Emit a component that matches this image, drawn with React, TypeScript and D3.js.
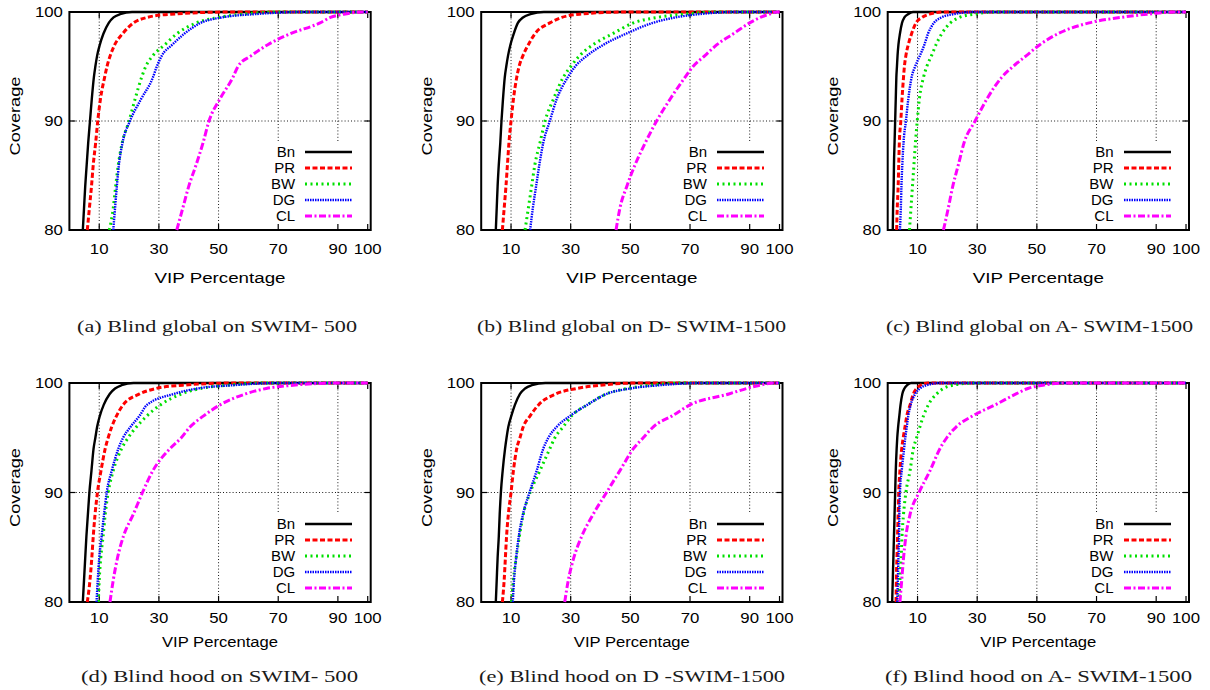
import React from 'react';
import * as d3 from 'd3';

// ---------- data ----------
const coverageLevels = [80, 82, 84, 86, 88, 90, 92, 94, 95, 96, 97, 98, 99, 99.5, 99.8, 100];
const seriesNames = ['Bn', 'PR', 'BW', 'DG', 'CL'];
const xTickValues = [10, 30, 50, 70, 90, 100];
const yTickValues = [80, 90, 100];
const xGridValues = [10, 30, 50, 70, 90];
const yGridValues = [90];
const xLabelText = 'VIP Percentage';
const yLabelText = 'Coverage';
const captions = [
  '(a) Blind global on SWIM- 500',
  '(b) Blind global on D- SWIM-1500',
  '(c) Blind global on A- SWIM-1500',
  '(d) Blind hood on SWIM- 500',
  '(e) Blind hood on D -SWIM-1500',
  '(f) Blind hood on A- SWIM-1500',
];

// VIP percentage needed to reach each coverage level
// (a) Blind global on SWIM-500
const aBn = [4.5, 4.9, 5.3, 5.8, 6.3, 6.9, 7.5, 8.2, 8.7, 9.3, 10.2, 11.4, 13.2, 14.8, 17, 21];
const aPR = [6.0, 6.7, 7.4, 8.0, 8.8, 9.5, 10.4, 11.8, 12.6, 13.7, 15.2, 17.8, 21.5, 26, 34, 55];
const aBW = [13.4, 14.7, 15.5, 16.4, 17.7, 20.0, 22, 24.2, 25.6, 28, 32, 36, 42.5, 50, 58, 70];
const aDG = [14.7, 15.3, 15.9, 16.6, 17.8, 20.3, 24, 28, 29.3, 31, 34.5, 38.5, 44, 51, 62, 78];
const aCL = [36, 38, 40, 42.5, 44.8, 46.8, 50.4, 54.8, 56.5, 61, 66.5, 74, 84, 87.5, 92, 99];
// (b) Blind global on D-SWIM-1500
const bBn = [4.9, 5.2, 5.5, 5.9, 6.4, 6.8, 7.3, 7.9, 8.4, 9.0, 9.8, 10.9, 12.3, 14, 16.5, 21];
const bPR = [7.1, 7.7, 8.3, 8.8, 9.3, 10, 10.8, 11.9, 12.7, 14, 15.8, 18, 23, 27, 33, 48];
const bBW = [14.7, 15.8, 16.9, 18, 19.7, 21.4, 24.2, 27.5, 30, 33, 37.5, 44, 51, 59, 68, 80];
const bDG = [16.4, 17.3, 18.4, 19.5, 20.8, 23, 25.3, 29, 31.5, 35.5, 41, 48.5, 57.5, 65, 73, 85];
const bCL = [45.2, 46.5, 48.8, 51.6, 55, 58.8, 63.3, 68.3, 71, 75, 79, 84.5, 90, 93.5, 96.5, 99];
// (c) Blind global on A-SWIM-1500
const cBn = [1.7, 1.8, 2.0, 2.1, 2.3, 2.5, 2.7, 2.9, 3.1, 3.3, 3.6, 4.1, 4.8, 5.6, 6.8, 8.5];
const cPR = [3.0, 3.2, 3.5, 3.7, 3.9, 4.4, 4.8, 5.3, 5.6, 6.1, 6.9, 8, 9.5, 11.5, 14, 19];
const cBW = [7.3, 7.8, 8.3, 8.8, 9.3, 9.9, 10.6, 12, 13.1, 14.7, 16.2, 18.1, 21, 24, 29, 36];
const cDG = [4.1, 4.4, 4.6, 4.9, 5.3, 6.1, 6.9, 8, 9.2, 10.8, 12.3, 13.5, 15.5, 18, 22, 29];
const cCL = [18.7, 20.3, 21.8, 23.7, 25.6, 29.3, 33.2, 38.2, 42, 46.5, 51, 57, 67.5, 78, 87, 96];
// (d) Blind hood on SWIM-500
const dBn = [4.5, 4.9, 5.3, 5.7, 6.2, 6.7, 7.4, 8.1, 8.7, 9.3, 10.2, 11.5, 13.5, 15.3, 17.5, 21.5];
const dPR = [6, 6.9, 7.5, 8, 8.6, 9.4, 10.6, 12, 13, 14.2, 15.8, 18, 23.5, 29, 38, 55];
const dBW = [9.7, 10, 10.5, 11.3, 12, 13, 14.7, 17.5, 19.7, 22.5, 26, 30.5, 37.5, 44, 53, 66];
const dDG = [9.1, 9.5, 10, 10.8, 11.6, 12.5, 14.2, 16.4, 18, 20.5, 23.5, 26, 35, 43, 55, 70];
const dCL = [13.6, 14.7, 16.1, 18.1, 21.4, 24.5, 28, 33.7, 37.5, 40.5, 45, 50.5, 59, 66, 75, 90];
// (e) Blind hood on D-SWIM-1500
const eBn = [4.9, 5.2, 5.5, 5.9, 6.2, 6.6, 7.2, 8, 8.5, 9.1, 10.1, 11.3, 13, 14.7, 17, 21.5];
const ePR = [7.1, 7.7, 8.1, 8.5, 9.1, 10, 10.8, 11.9, 13, 14.1, 16.4, 19.2, 25, 32, 40, 52];
const eBW = [10.2, 10.8, 11.7, 12.8, 14.1, 16.4, 19.7, 23, 24.7, 27.5, 30.3, 35.5, 42, 49, 57, 68];
const eDG = [10.6, 11, 11.7, 12.6, 14, 16.2, 18.6, 20.8, 22.5, 25.3, 29.8, 35.5, 42, 50, 60, 74];
const eCL = [28, 29.2, 31, 33.7, 37.5, 42, 46.5, 51, 54.3, 57.7, 64, 70, 83, 89, 93.5, 98];
// (f) Blind hood on A-SWIM-1500
const fBn = [1.5, 1.7, 1.9, 2.1, 2.3, 2.5, 2.7, 3.0, 3.2, 3.5, 3.9, 4.3, 4.9, 5.6, 6.5, 7.8];
const fPR = [2.8, 2.9, 3.1, 3.3, 3.5, 3.7, 4.1, 4.7, 5.2, 5.8, 6.4, 7.5, 8.6, 9.7, 11, 13.5];
const fBW = [3.8, 4.1, 4.5, 4.8, 5.3, 6.1, 7.5, 8.6, 9.7, 10.8, 12, 13.6, 16.4, 18.7, 22, 29];
const fDG = [3.2, 3.4, 3.6, 3.8, 3.9, 4.1, 4.7, 5.5, 5.9, 6.4, 6.9, 7.7, 9.2, 10.8, 13, 17.5];
const fCL = [4.1, 4.7, 5.3, 6.1, 7.5, 10.5, 14.2, 17.5, 19.8, 23, 28.5, 36, 43, 47, 52, 60];

const panelSeries = [
  [aBn, aPR, aBW, aDG, aCL],
  [bBn, bPR, bBW, bDG, bCL],
  [cBn, cPR, cBW, cDG, cCL],
  [dBn, dPR, dBW, dDG, dCL],
  [eBn, ePR, eBW, eDG, eCL],
  [fBn, fPR, fBW, fDG, fCL],
];

// ---------- styles / layout ----------
const seriesStyles = [
  { color: '#000000', width: 2.4, dash: null },
  { color: '#ff0000', width: 3, dash: '5,2.5' },
  { color: '#00e000', width: 3, dash: '2,3.5' },
  { color: '#0000ff', width: 2.4, dash: '1.5,1' },
  { color: '#ff00ff', width: 3, dash: '7,2.5,2,2.5' },
];
const colX0 = [69.4, 481.2, 887.7];
const plotW = 301.3;
const rows = [
  { top: 12, bottom: 230, tickBase: 24, labelBase: 283, labelLen: 131, capBase: 332 },
  { top: 383, bottom: 602, tickBase: 20.7, labelBase: 646.5, labelLen: 116, capBase: 682 },
];
const captionBox = [
  [77, 280], [477, 309], [886, 307],
  [81, 277], [479, 306], [885, 307],
];
const SANS = '"Liberation Sans", Arial, Helvetica, sans-serif';
const SERIF = '"Liberation Serif", "Times New Roman", serif';

function Panel({ idx }: { idx: number }) {
  const row = rows[Math.floor(idx / 3)];
  const x0 = colX0[idx % 3];
  const x = d3.scaleLinear().domain([0, 101]).range([x0, x0 + plotW]);
  const y = d3.scaleLinear().domain([80, 100]).range([row.bottom, row.top]);
  const left = x(0), right = x(101), top = y(100), bottom = y(80);
  const line = d3
    .line<[number, number]>()
    .x((d) => x(d[0]))
    .y((d) => y(d[1]))
    .curve(d3.curveMonotoneX);
  const tickLen = 6;
  const legendBoxTop = bottom - 88;
  const legendRows = seriesNames.map((_, i) => Math.round(bottom - 14 - 16 * (4 - i)));
  const sampleX1 = Math.round(right - 65.5);
  const sampleX2 = Math.round(right - 18.5);

  return (
    <g>
      {/* grid */}
      {xGridValues.map((v) => (
        <line key={'gx' + v} x1={x(v)} x2={x(v)} y1={top} y2={bottom}
          stroke="#000" strokeWidth={0.9} strokeDasharray="1,2.2" />
      ))}
      {yGridValues.map((v) => (
        <line key={'gy' + v} x1={left} x2={right} y1={y(v)} y2={y(v)}
          stroke="#000" strokeWidth={0.9} strokeDasharray="1,2.2" />
      ))}
      {/* legend background */}
      <rect x={right - 100} y={legendBoxTop} width={100} height={bottom - legendBoxTop} fill="#fff" />
      {/* ticks */}
      {xTickValues.map((v) => (
        <g key={'tx' + v}>
          <line x1={x(v)} x2={x(v)} y1={bottom} y2={bottom - tickLen} stroke="#000" strokeWidth={1.2} />
          <line x1={x(v)} x2={x(v)} y1={top} y2={top + tickLen} stroke="#000" strokeWidth={1.2} />
          <text x={x(v)} y={bottom + row.tickBase} textAnchor="middle" fontFamily={SANS}
            fontSize={15} textLength={v === 100 ? 28 : 18.7} lengthAdjust="spacingAndGlyphs">{v}</text>
        </g>
      ))}
      {yTickValues.map((v) => (
        <g key={'ty' + v}>
          <line x1={left} x2={left + tickLen} y1={y(v)} y2={y(v)} stroke="#000" strokeWidth={1.2} />
          <line x1={right} x2={right - tickLen} y1={y(v)} y2={y(v)} stroke="#000" strokeWidth={1.2} />
          <text x={left - 6.5} y={y(v)} dy="0.36em" textAnchor="end" fontFamily={SANS}
            fontSize={15} textLength={v === 100 ? 28 : 18.7} lengthAdjust="spacingAndGlyphs">{v}</text>
        </g>
      ))}
      {/* border */}
      <rect x={left} y={top} width={right - left} height={bottom - top} fill="none" stroke="#000" strokeWidth={2} />
      {/* curves */}
      {panelSeries[idx].map((vals, i) => {
        const pts: [number, number][] = coverageLevels.map((c, k) => [vals[k], c] as [number, number]);
        pts.push([100, 100]);
        const st = seriesStyles[i];
        return (
          <path key={'s' + i} d={line(pts) || ''} fill="none" stroke={st.color} strokeWidth={st.width}
            strokeDasharray={st.dash || undefined} />
        );
      })}
      {/* legend */}
      {seriesNames.map((name, i) => {
        const st = seriesStyles[i];
        const ly = legendRows[i];
        return (
          <g key={'l' + name}>
            <text x={right - 75.5} y={ly} dy="0.36em" textAnchor="end" fontFamily={SANS} fontSize={15}>{name}</text>
            <line x1={sampleX1} x2={sampleX2} y1={ly} y2={ly} stroke={st.color}
              strokeWidth={st.width} strokeDasharray={st.dash || undefined} />
          </g>
        );
      })}
      {/* axis labels */}
      <text x={(left + right) / 2} y={row.labelBase} textAnchor="middle" fontFamily={SANS} fontSize={15.5}
        textLength={row.labelLen} lengthAdjust="spacingAndGlyphs">{xLabelText}</text>
      <text transform={`translate(${left - 49.5},${(top + bottom) / 2 - 5}) rotate(-90)`} textAnchor="middle"
        fontFamily={SANS} fontSize={15.5} textLength={79} lengthAdjust="spacingAndGlyphs">{yLabelText}</text>
      {/* caption */}
      <text x={captionBox[idx][0]} y={row.capBase} fontFamily={SERIF} fontSize={16.5} fill="#1a1a1a"
        textLength={captionBox[idx][1]} lengthAdjust="spacingAndGlyphs">{captions[idx]}</text>
    </g>
  );
}

export default function App() {
  return (
    <svg width={1210} height={690} style={{ position: 'absolute', left: 0, top: 0, background: '#fff' }}>
      <rect x={0} y={0} width={1210} height={690} fill="#fff" />
      {[0, 1, 2, 3, 4, 5].map((i) => (
        <Panel key={i} idx={i} />
      ))}
    </svg>
  );
}
